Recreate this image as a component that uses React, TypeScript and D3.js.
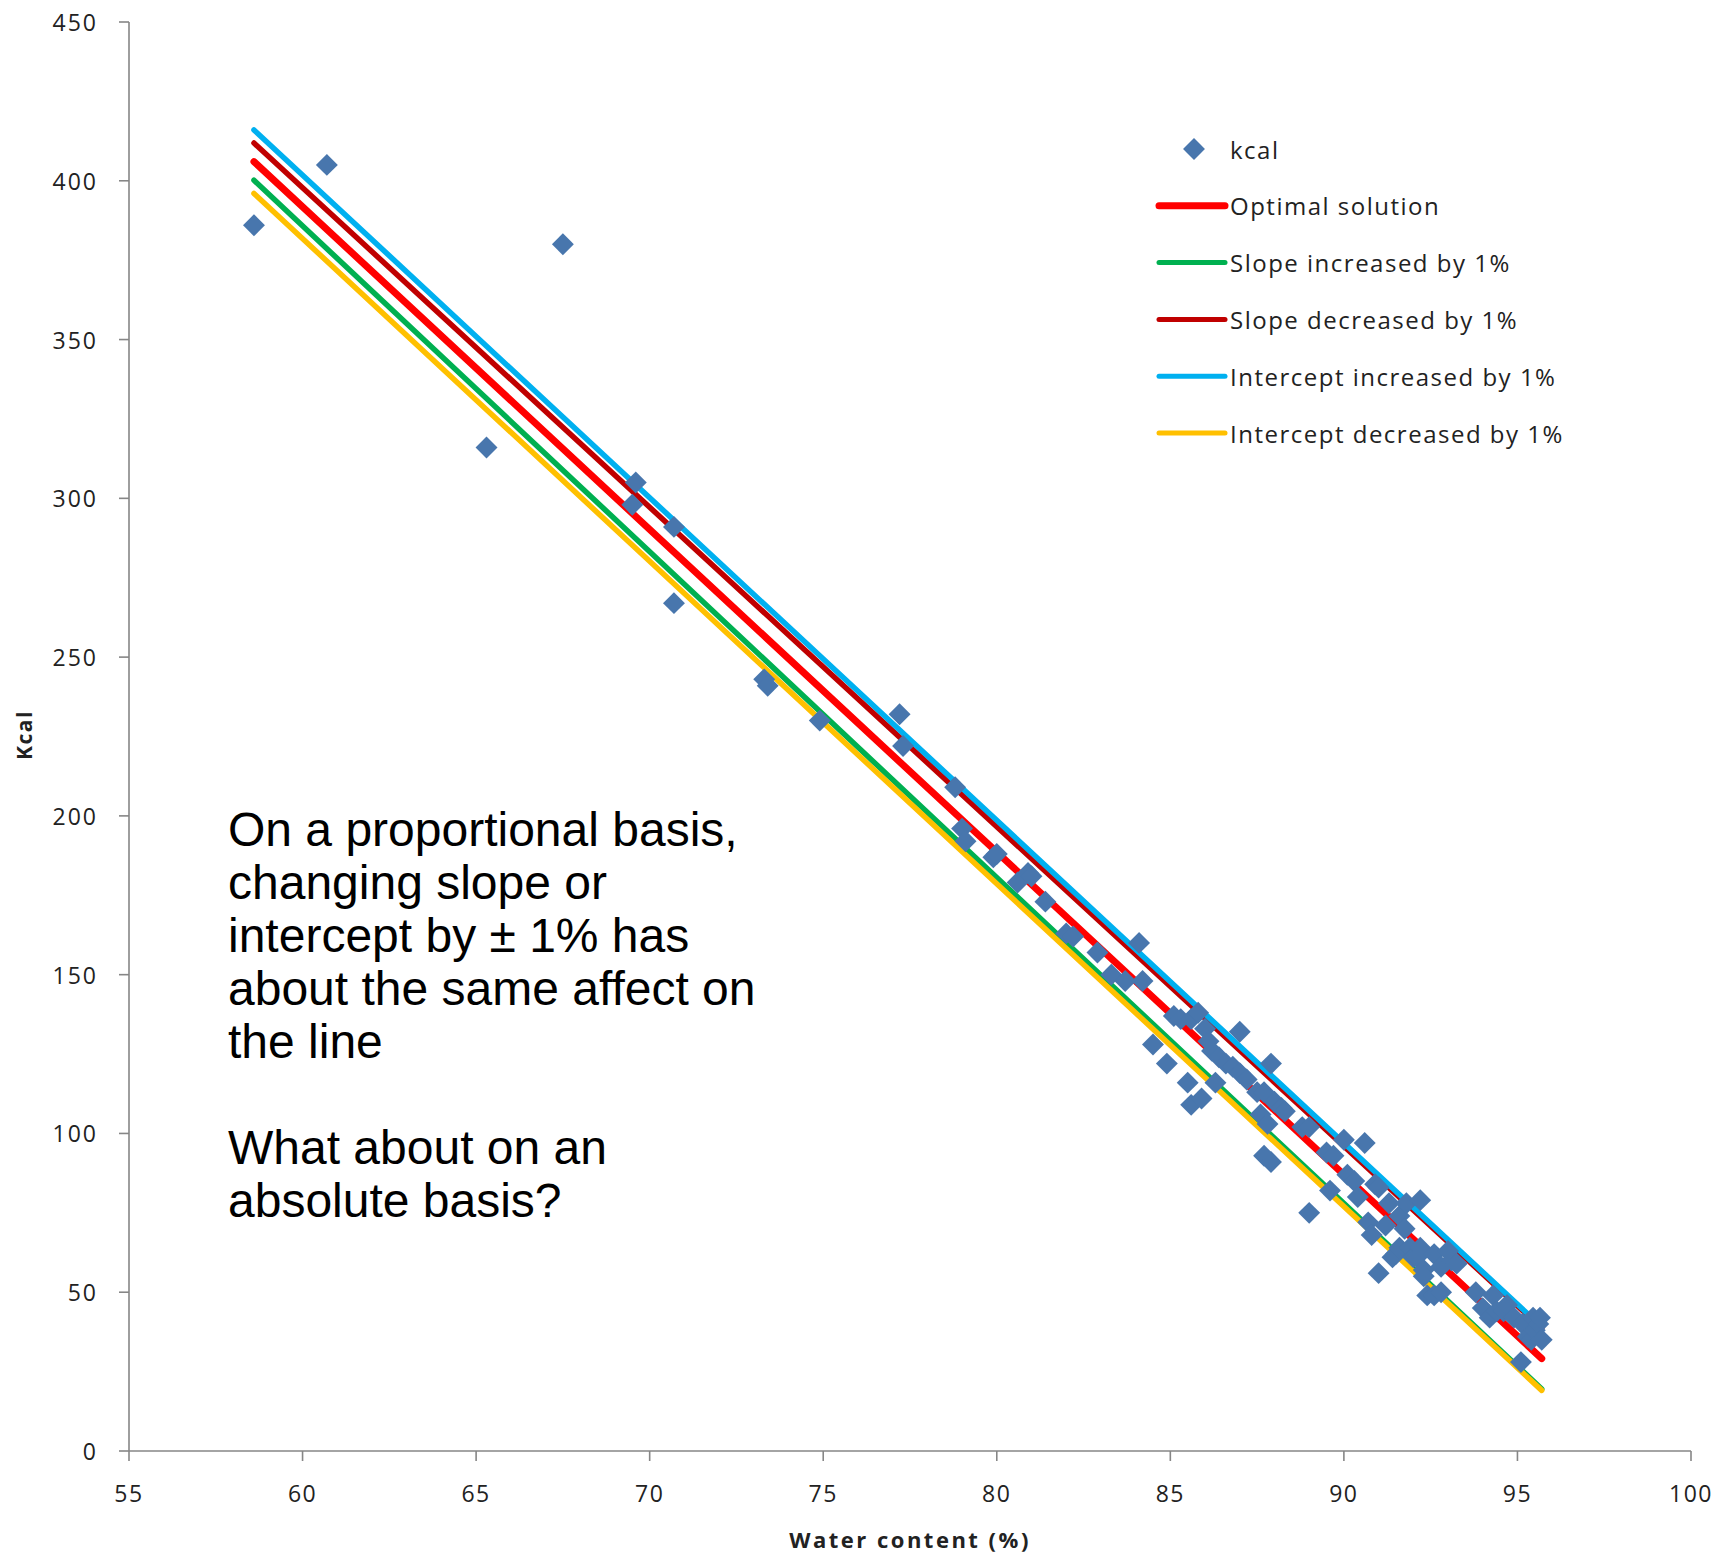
import React from "react";
import * as d3 from "d3";

// ---- data ----
const waterContent: number[] = [
  58.6, 60.7, 65.3, 67.5, 69.5, 69.6, 70.7, 70.7, 73.3, 73.4, 74.9, 77.2, 77.3, 78.8, 79.0, 79.1,
  79.9, 80.0, 80.6, 80.9, 81.0, 81.4, 82.0, 82.2, 82.9, 83.3, 83.7, 84.1, 84.2, 84.5, 84.9, 85.1,
  85.3, 85.5, 85.6, 85.6, 85.8, 85.9, 86.0, 86.1, 86.2, 86.3, 86.4, 86.6, 86.8, 87.0, 87.0, 87.2,
  87.5, 87.6, 87.7, 87.7, 87.8, 87.9, 87.9, 88.0, 88.2, 88.3, 88.8, 89.0, 89.0, 89.5, 89.6, 89.7,
  90.0, 90.1, 90.3, 90.4, 90.6, 90.7, 90.8, 90.9, 91.0, 91.0, 91.2, 91.3, 91.4, 91.5, 91.6, 91.6,
  91.75, 91.8, 91.9, 92.0, 92.1, 92.2, 92.2, 92.3, 92.3, 92.4, 92.6, 92.6, 92.8, 92.8, 93.0, 93.1,
  93.25, 93.8, 94.0, 94.2, 94.3, 94.4, 94.6, 94.7, 94.9, 95.1, 95.15, 95.3, 95.4, 95.45, 95.5, 95.6,
  95.65, 95.7,
];
const kcal: number[] = [
  386, 405, 316, 380, 298, 305, 291, 267, 243, 241, 230, 232, 222, 209, 196, 192,
  187, 188, 179, 182, 181, 173, 163, 162, 157, 150, 148, 160, 148, 128, 122, 137,
  136, 116, 109, 136, 138, 111, 133, 129, 126, 116, 124, 122, 121, 132, 119, 117,
  113, 106, 93, 113, 103, 122, 91, 110, 108, 107, 102, 75, 102, 94, 82, 93,
  98, 87, 85, 80, 97, 72, 68, 84, 83, 56, 71, 78, 61, 62, 74, 64,
  70, 78, 64, 61, 61, 79, 64, 57, 55, 49, 62, 49, 58, 50, 63, 60,
  59, 50, 45, 42, 49, 44, 44, 46, 42, 28, 40, 36, 35, 42, 38, 40,
  42, 35,
];

const lineNames: string[] = [
  "Optimal solution",
  "Slope increased by 1%",
  "Slope decreased by 1%",
  "Intercept increased by 1%",
  "Intercept decreased by 1%",
];
const lineIntercepts: number[] = [1001.4, 1001.4, 1001.4, 1011.4, 991.4];
const lineSlopes: number[] = [-10.16, -10.26, -10.06, -10.16, -10.16];
const lineXRange: number[] = [58.6, 95.7];
const lineColors: string[] = ["#ff0000", "#00b050", "#c00000", "#00b0f0", "#ffc000"];

const xTicks: number[] = [55, 60, 65, 70, 75, 80, 85, 90, 95, 100];
const yTicks: number[] = [0, 50, 100, 150, 200, 250, 300, 350, 400, 450];

const noteLines: string[] = [
  "On a proportional basis,",
  "changing slope or",
  "intercept by \u00b1 1% has",
  "about the same affect on",
  "the line",
  "",
  "What about on an",
  "absolute basis?",
];

// ---- layout ----
const W = 1714;
const H = 1558;
const axisColor = "#868686";
const markerColor = "#4876ad";
const tickFont = "'Open Sans', 'DejaVu Sans', sans-serif";

export default function App() {
  const x = d3.scaleLinear().domain([55, 100]).range([129, 1691]);
  const y = d3.scaleLinear().domain([0, 450]).range([1451, 22]);

  const diamond = d3.symbol().type(d3.symbolSquare).size(240)() as string;

  const lineGen = d3
    .line<[number, number]>()
    .x((d) => x(d[0]))
    .y((d) => y(d[1]));

  const lines = lineNames.map((name, i) => {
    const pts: [number, number][] = lineXRange.map((w) => [w, lineIntercepts[i] + lineSlopes[i] * w]);
    return { name, color: lineColors[i], d: lineGen(pts) as string, width: i === 0 ? 7 : 5.5 };
  });

  const legendX = 1159;
  const legendTextX = 1230;
  const legendY0 = 149;
  const legendStep = 56.8;

  return (
    <svg
      width={W}
      height={H}
      style={{ position: "absolute", left: 0, top: 0, background: "#fff" }}
    >
      <rect x={0} y={0} width={W} height={H} fill="#fff" />

      {/* axes */}
      <line x1={x(55)} x2={x(55)} y1={y(450)} y2={y(0)} stroke={axisColor} strokeWidth={1.6} />
      <line x1={x(55)} x2={x(100)} y1={y(0)} y2={y(0)} stroke={axisColor} strokeWidth={1.6} />
      {yTicks.map((t) => (
        <g key={"y" + t}>
          <line x1={x(55) - 10} x2={x(55)} y1={y(t)} y2={y(t)} stroke={axisColor} strokeWidth={1.6} />
          <text
            x={98}
            y={y(t)}
            textAnchor="end"
            dominantBaseline="central"
            fontFamily={tickFont}
            fontSize={23}
            letterSpacing={2}
            fill="#222"
          >
            {t}
          </text>
        </g>
      ))}
      {xTicks.map((t) => (
        <g key={"x" + t}>
          <line x1={x(t)} x2={x(t)} y1={y(0)} y2={y(0) + 10} stroke={axisColor} strokeWidth={1.6} />
          <text
            x={x(t)}
            y={1502}
            textAnchor="middle"
            fontFamily={tickFont}
            fontSize={23}
            letterSpacing={1.5}
            fill="#222"
          >
            {t}
          </text>
        </g>
      ))}

      {/* axis titles */}
      <text
        transform={`translate(32,735) rotate(-90)`}
        textAnchor="middle"
        fontFamily={tickFont}
        fontWeight="bold"
        fontSize={21}
        letterSpacing={1.5}
        fill="#222"
      >
        Kcal
      </text>
      <text
        x={910}
        y={1548}
        textAnchor="middle"
        fontFamily={tickFont}
        fontWeight="bold"
        fontSize={22}
        letterSpacing={2.5}
        fill="#222"
      >
        Water content (%)
      </text>

      {/* fitted lines */}
      {lines.map((l) => (
        <path
          key={l.name}
          d={l.d}
          fill="none"
          stroke={l.color}
          strokeWidth={l.width}
          strokeLinecap="round"
        />
      ))}

      {/* data points */}
      {waterContent.map((w, i) => (
        <path
          key={"p" + i}
          d={diamond}
          transform={`translate(${x(w)},${y(kcal[i])}) rotate(45)`}
          fill={markerColor}
        />
      ))}

      {/* legend */}
      <path
        d={diamond}
        transform={`translate(1194,${legendY0}) rotate(45)`}
        fill={markerColor}
      />
      <text
        x={legendTextX}
        y={legendY0}
        dominantBaseline="central"
        fontFamily={tickFont}
        fontSize={24}
        letterSpacing={1.5}
        fill="#222"
      >
        kcal
      </text>
      {lines.map((l, i) => {
        const ly = legendY0 + legendStep * (i + 1);
        return (
          <g key={"lg" + i}>
            <line
              x1={legendX}
              x2={legendX + 66}
              y1={ly}
              y2={ly}
              stroke={l.color}
              strokeWidth={i === 0 ? 7 : 5}
              strokeLinecap="round"
            />
            <text
              x={legendTextX}
              y={ly}
              dominantBaseline="central"
              fontFamily={tickFont}
              fontSize={24}
              letterSpacing={1.5}
              fill="#222"
            >
              {l.name}
            </text>
          </g>
        );
      })}

      {/* annotation */}
      <text fontFamily="'Liberation Sans', Arial, sans-serif" fontSize={48} fill="#000">
        {noteLines.map((s, i) => (
          <tspan key={"n" + i} x={228} y={846 + 53 * i}>
            {s}
          </tspan>
        ))}
      </text>
    </svg>
  );
}
